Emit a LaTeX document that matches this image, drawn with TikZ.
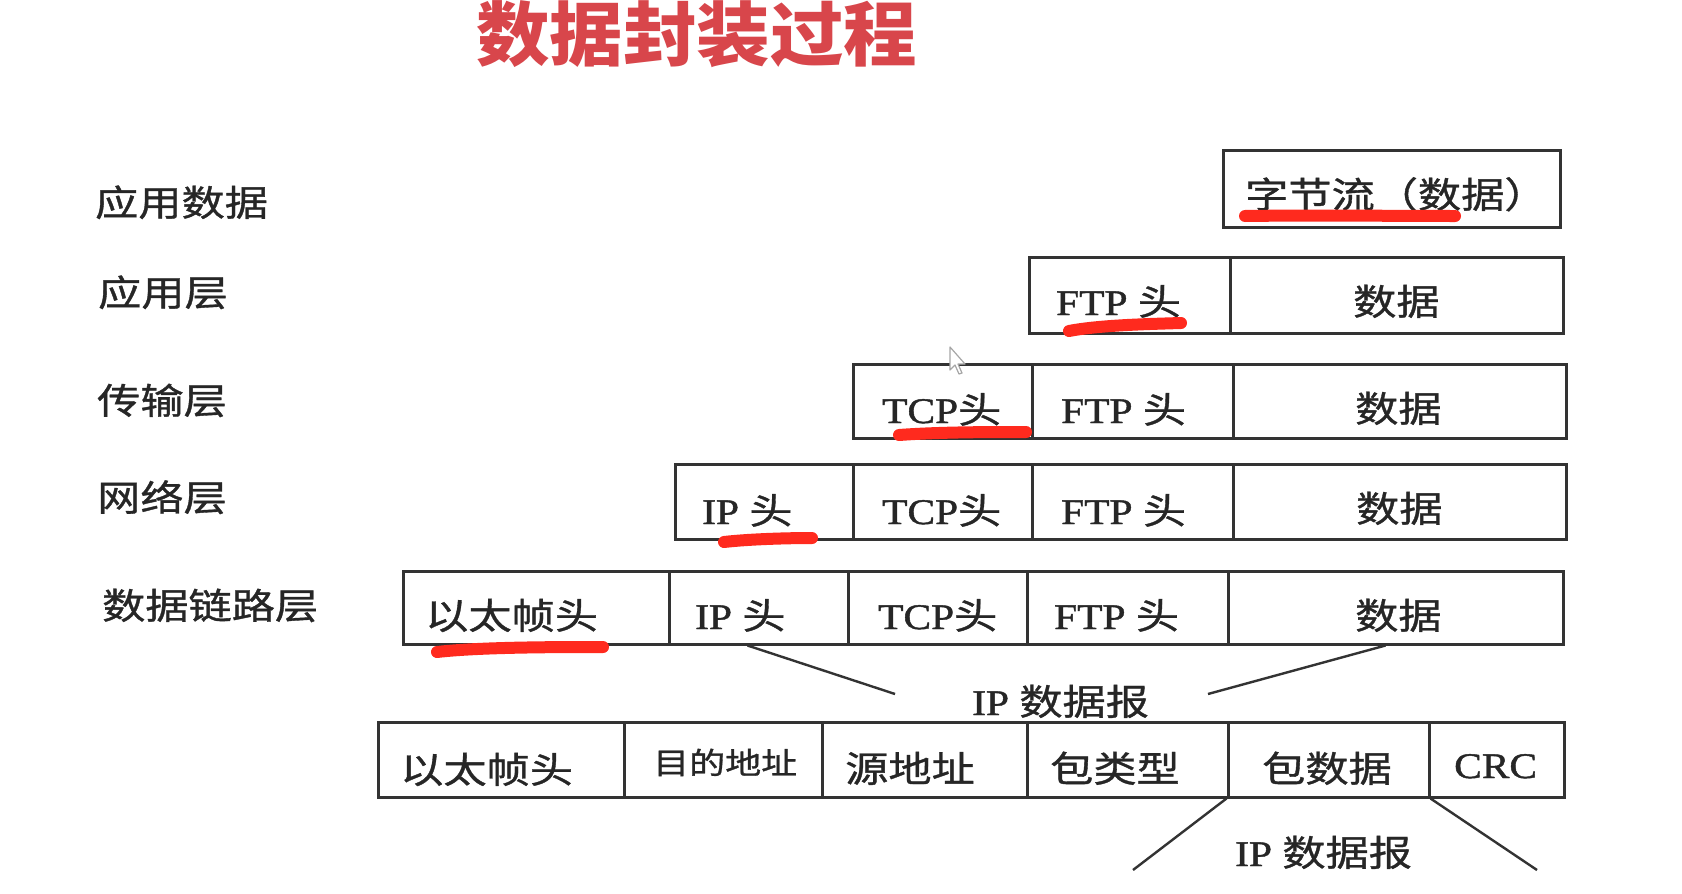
\documentclass[tikz,border=0pt]{standalone}
\usepackage{fontspec}
\setmainfont{Liberation Serif}[FakeStretch=1.15,FakeBold=1.2]
\newfontfamily\cjk{Noto Sans CJK SC}[FakeStretch=1.2,FakeBold=1]
\newfontfamily\cjkt{Noto Sans CJK SC}[FakeStretch=1.05]
\newcommand\zh[1]{{\cjk #1}}
\definecolor{boxc}{HTML}{333333}
\definecolor{txtc}{HTML}{262626}
\definecolor{ulc}{HTML}{FF2A1E}
\definecolor{titlec}{HTML}{D8464B}
\newcommand\mycell[5]{\node[cell, minimum width={#3-#2}, minimum height={#5-#4}] (#1) at ({(#2+#3)/2},{(#4+#5)/2}) {};}
\tikzset{
  cell/.style={draw=boxc, line width=3pt, inner sep=0pt, rectangle},
  txt/.style={anchor=base west, inner sep=0pt, text=txtc, font=\fontsize{36}{40}\selectfont},
  smalltxt/.style={txt, font=\fontsize{30}{34}\selectfont},
  sidelabel/.style={txt},
  uline/.style={draw=ulc, line width=12pt, line cap=round},
  conn/.style={draw=boxc, line width=2.4pt},
}
\begin{document}
\begin{tikzpicture}[x=1pt,y=-1pt]
\useasboundingbox[fill=white] (0,0) rectangle (1682,894);

% title
\node[anchor=base west, inner sep=0pt, text=titlec, font=\fontsize{70}{76}\selectfont\cjkt\bfseries] (title) at (476,60) {数据封装过程};

% side labels
\node[sidelabel] (l0) at (95,216) {\zh{应用数据}};
\node[sidelabel] (l1) at (98,306) {\zh{应用层}};
\node[sidelabel] (l2) at (97,414) {\zh{传输层}};
\node[sidelabel] (l3) at (97,511) {\zh{网络层}};
\node[sidelabel] (l4) at (102,619) {\zh{数据链路层}};

% row 0
\mycell{a0}{1223}{1560}{150}{227}
\node[txt] (ta0) at (1245,208) {\zh{字节流（数据）}};

% row 1
\mycell{ftp1}{1029}{1230}{257}{333}
\mycell{d1}{1230}{1563}{257}{333}
\node[txt] (tftp1) at (1056,315) {FTP \zh{头}};
\node[txt] (td1) at (1353,315) {\zh{数据}};

% row 2
\mycell{tcp2}{853}{1032}{364}{438}
\mycell{ftp2}{1032}{1233}{364}{438}
\mycell{d2}{1233}{1566}{364}{438}
\node[txt] (ttcp2) at (882,423) {TCP\zh{头}};
\node[txt] (tftp2) at (1061,423) {FTP \zh{头}};
\node[txt] (td2) at (1355,422) {\zh{数据}};

% row 3
\mycell{ip3}{675}{853}{464}{539}
\mycell{tcp3}{853}{1032}{464}{539}
\mycell{ftp3}{1032}{1233}{464}{539}
\mycell{d3}{1233}{1566}{464}{539}
\node[txt] (tip3) at (702,524) {IP \zh{头}};
\node[txt] (ttcp3) at (882,524) {TCP\zh{头}};
\node[txt] (tftp3) at (1061,524) {FTP \zh{头}};
\node[txt] (td3) at (1356,522) {\zh{数据}};

% row 4
\mycell{eth4}{403}{669}{571}{644}
\mycell{ip4}{669}{848}{571}{644}
\mycell{tcp4}{848}{1027}{571}{644}
\mycell{ftp4}{1027}{1228}{571}{644}
\mycell{d4}{1228}{1563}{571}{644}
\node[txt] (teth4) at (425,629) {\zh{以太帧头}};
\node[txt] (tip4) at (695,629) {IP \zh{头}};
\node[txt] (ttcp4) at (878,629) {TCP\zh{头}};
\node[txt] (tftp4) at (1054,629) {FTP \zh{头}};
\node[txt] (td4) at (1355,629) {\zh{数据}};

% middle label and connectors
\node[txt] (dg1) at (972,715) {IP \zh{数据报}};
\coordinate (dgL) at (895,694);
\coordinate (dgR) at (1208,694);
\draw[conn] ([xshift=-11pt]ip4.south) -- (dgL);
\draw[conn] ([xshift=-10pt]d4.south) -- (dgR);

% row 5
\mycell{eth5}{378}{624}{722}{797}
\mycell{dst5}{624}{822}{722}{797}
\mycell{src5}{822}{1027}{722}{797}
\mycell{typ5}{1027}{1228}{722}{797}
\mycell{pd5}{1228}{1429}{722}{797}
\mycell{crc5}{1429}{1564}{722}{797}
\node[txt] (teth5) at (400,783) {\zh{以太帧头}};
\node[smalltxt] (tdst5) at (653,774) {\zh{目的地址}};
\node[txt] (tsrc5) at (845,782) {\zh{源地址}};
\node[txt] (ttyp5) at (1050,782) {\zh{包类型}};
\node[txt] (tpd5) at (1262,782) {\zh{包数据}};
\node[txt] (tcrc5) at (1454,778) {CRC};

% bottom label and connectors
\node[txt] (dg2) at (1235,866) {IP \zh{数据报}};
\coordinate (bL) at (1133,870);
\coordinate (bR) at (1537,870);
\draw[conn] (pd5.south west) -- (bL);
\draw[conn] (pd5.south east) -- (bR);

% red underlines
\draw[uline] (1245,216) .. controls (1320,215) and (1390,216) .. (1455,216);
\draw[uline] (1069,331) .. controls (1100,325) and (1150,324) .. (1181,323);
\draw[uline] (899,435) .. controls (940,432) and (990,432) .. (1026,432);
\draw[uline] (724,542) .. controls (750,539) and (790,538) .. (812,538);
\draw[uline] (437,652) .. controls (480,647) and (560,647) .. (603,647);

% mouse pointer
\draw[draw=gray!70, fill=white, line width=1.2pt, line join=round]
  (950,347) -- (950,370) -- (955,365) -- (959,374) -- (962,373) -- (958,364) -- (965,364) -- cycle;
\end{tikzpicture}
\end{document}
